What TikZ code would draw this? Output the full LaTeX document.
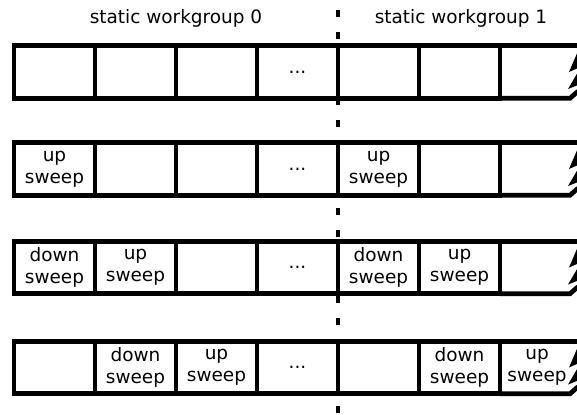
\documentclass[tikz,border=0pt]{standalone}
\usepackage{fontspec}
\setmainfont{DejaVu Sans}
\usetikzlibrary{positioning}

\begin{document}
\begin{tikzpicture}
[
  x=0.02cm, y=-0.02cm,
  cell/.style={rectangle,draw=black,line width=2.7pt,minimum width=1.62cm,minimum height=1.05cm,inner sep=0pt,outer sep=0pt},
  txt/.style={align=center,inner sep=0pt,font=\fontsize{10.5}{12.6}\selectfont},
  edge/.style={line width=2.7pt},
  split/.style={line width=2.5pt,dash pattern=on 0.14cm off 0.3cm},
]
\useasboundingbox (0,0) rectangle (577,415);
\clip (0,0) rectangle (577,415);
\node[txt] (wg0) at (176,18) {static workgroup 0};
\node[txt] (wg1) at (461,18) {static workgroup 1};
\foreach \r/\y in {1/72,2/169,3/267.5,4/367.5}{
    \foreach \c/\x in {1/54.5,2/135.5,3/216.5,4/297.5,5/378.5,6/459.5}
        \node[cell] (c\r\c) at (\x,\y){};
    \node[txt] (d\r) at (c\r4) {...};
    % torn end of the row
    \draw[edge] (c\r6.north east) -- ++(80,0);
    \draw[edge] (c\r6.south east) -- ++(70,0) -- ++(8,-7);
    \fill (578,\y-21) -- (569,\y) -- (578,\y-4) -- cycle;
    \fill (578,\y) -- (568,\y+17) -- (578,\y+13) -- cycle;
}
\node[txt] (t21) at (c21) {up\\sweep};
\node[txt] (t25) at (c25) {up\\sweep};
\node[txt] (t31) at (c31) {down\\sweep};
\node[txt] (t32) at (c32) {up\\sweep};
\node[txt] (t35) at (c35) {down\\sweep};
\node[txt] (t36) at (c36) {up\\sweep};
\node[txt] (t42) at (c42) {down\\sweep};
\node[txt] (t43) at (c43) {up\\sweep};
\node[txt] (t46) at (c46) {down\\sweep};
\node[txt] (t47) at (537,367.5) {up\\sweep};

\coordinate (split-top) at (338,10);
\coordinate (split-bot) at (338,415);
\draw[split] (split-top) -- (split-bot);
\end{tikzpicture}
\end{document}
